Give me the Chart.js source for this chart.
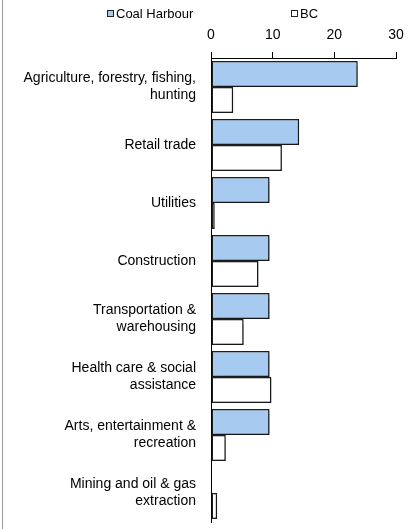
<!DOCTYPE html>
<html>
<head>
<meta charset="utf-8">
<script src="https://cdn.jsdelivr.net/npm/chart.js@4/dist/chart.umd.min.js"></script>
<style>
  body { margin: 0; background: #fff; font-family: "Liberation Sans", Arial, sans-serif; }
  #wrap { position: relative; width: 409px; height: 529px; }
  #frame { position: absolute; left: 2px; top: 0; width: 1px; height: 529px; background: #9a9a9a; }
  .lg { position: absolute; top: 6px; font-size: 13px; color: #000; line-height: 16px; white-space: nowrap; }
  .lg i { display: inline-block; width: 5px; height: 5px; border: 1.5px solid #222; margin-right: 2px; vertical-align: 1px; }
</style>
</head>
<body>
<div id="wrap">
  <canvas id="chart" width="409" height="529"></canvas>
  <div id="frame"></div>
  <div class="lg" style="left:107px"><i style="background:#a6caf0"></i>Coal Harbour</div>
  <div class="lg" style="left:291px"><i style="background:#fff"></i>BC</div>
</div>
<script>
  const CATEGORIES = [
    ['Agriculture, forestry, fishing,', 'hunting'],
    'Retail trade',
    'Utilities',
    'Construction',
    ['Transportation &', 'warehousing'],
    ['Health care & social', 'assistance'],
    ['Arts, entertainment &', 'recreation'],
    ['Mining and oil & gas', 'extraction'],
  ];
  const COAL_HARBOUR = [23.8, 14.3, 9.5, 9.5, 9.5, 9.5, 9.5, 0];
  const BC = [3.6, 11.5, 0.6, 7.7, 5.3, 9.8, 2.4, 1.0];
  const X_TICKS = [0, 10, 20, 30];

  const BLUE = '#a6caf0';
  const EDGE = '#1e1e1e';
  const FONT = { family: '"Liberation Sans", Arial, sans-serif', size: 14 };

  // soft drop shadow under the bars, like the original
  const barShadow = {
    id: 'barShadow',
    beforeDatasetsDraw(chart) {
      const ctx = chart.ctx;
      ctx.save();
      ctx.shadowColor = 'rgba(0, 0, 0, 0.22)';
      ctx.shadowOffsetX = 1.5;
      ctx.shadowOffsetY = 1.5;
      ctx.shadowBlur = 1;
    },
    afterDatasetsDraw(chart) {
      chart.ctx.restore();
    },
  };

  new Chart(document.getElementById('chart'), {
    type: 'bar',
    data: {
      labels: CATEGORIES,
      datasets: [
        {
          label: 'Coal Harbour',
          data: COAL_HARBOUR,
          backgroundColor: BLUE,
          borderColor: EDGE,
          borderWidth: 1.5,
          borderSkipped: false,
        },
        {
          label: 'BC',
          data: BC,
          backgroundColor: '#ffffff',
          borderColor: EDGE,
          borderWidth: 1.5,
          borderSkipped: false,
        },
      ],
    },
    options: {
      indexAxis: 'y',
      responsive: false,
      animation: false,
      devicePixelRatio: 1,
      categoryPercentage: 0.9,
      barPercentage: 1.0,
      layout: { padding: { top: 0, right: 13, bottom: 7, left: 0 } },
      plugins: { legend: { display: false }, tooltip: { enabled: false } },
      scales: {
        x: {
          position: 'top',
          min: 0,
          max: 30,
          afterBuildTicks: axis => { axis.ticks = X_TICKS.map(v => ({ value: v })); },
          afterFit: axis => { axis.height = 58; axis.paddingLeft = 0; axis.paddingRight = 0; },
          grid: { display: true, drawOnChartArea: false, drawTicks: true, tickLength: 6, color: '#000' },
          border: { display: true, color: '#000', width: 1 },
          ticks: { color: '#000', font: FONT, padding: 8, maxRotation: 0 },
        },
        y: {
          afterFit: axis => { axis.width = 211; axis.paddingTop = 0; axis.paddingBottom = 0; },
          grid: { display: false, drawTicks: false },
          border: { display: true, color: '#000', width: 1 },
          ticks: { color: '#000', font: FONT, padding: 15, crossAlign: 'near' },
        },
      },
    },
    plugins: [barShadow],
  });
</script>
</body>
</html>
